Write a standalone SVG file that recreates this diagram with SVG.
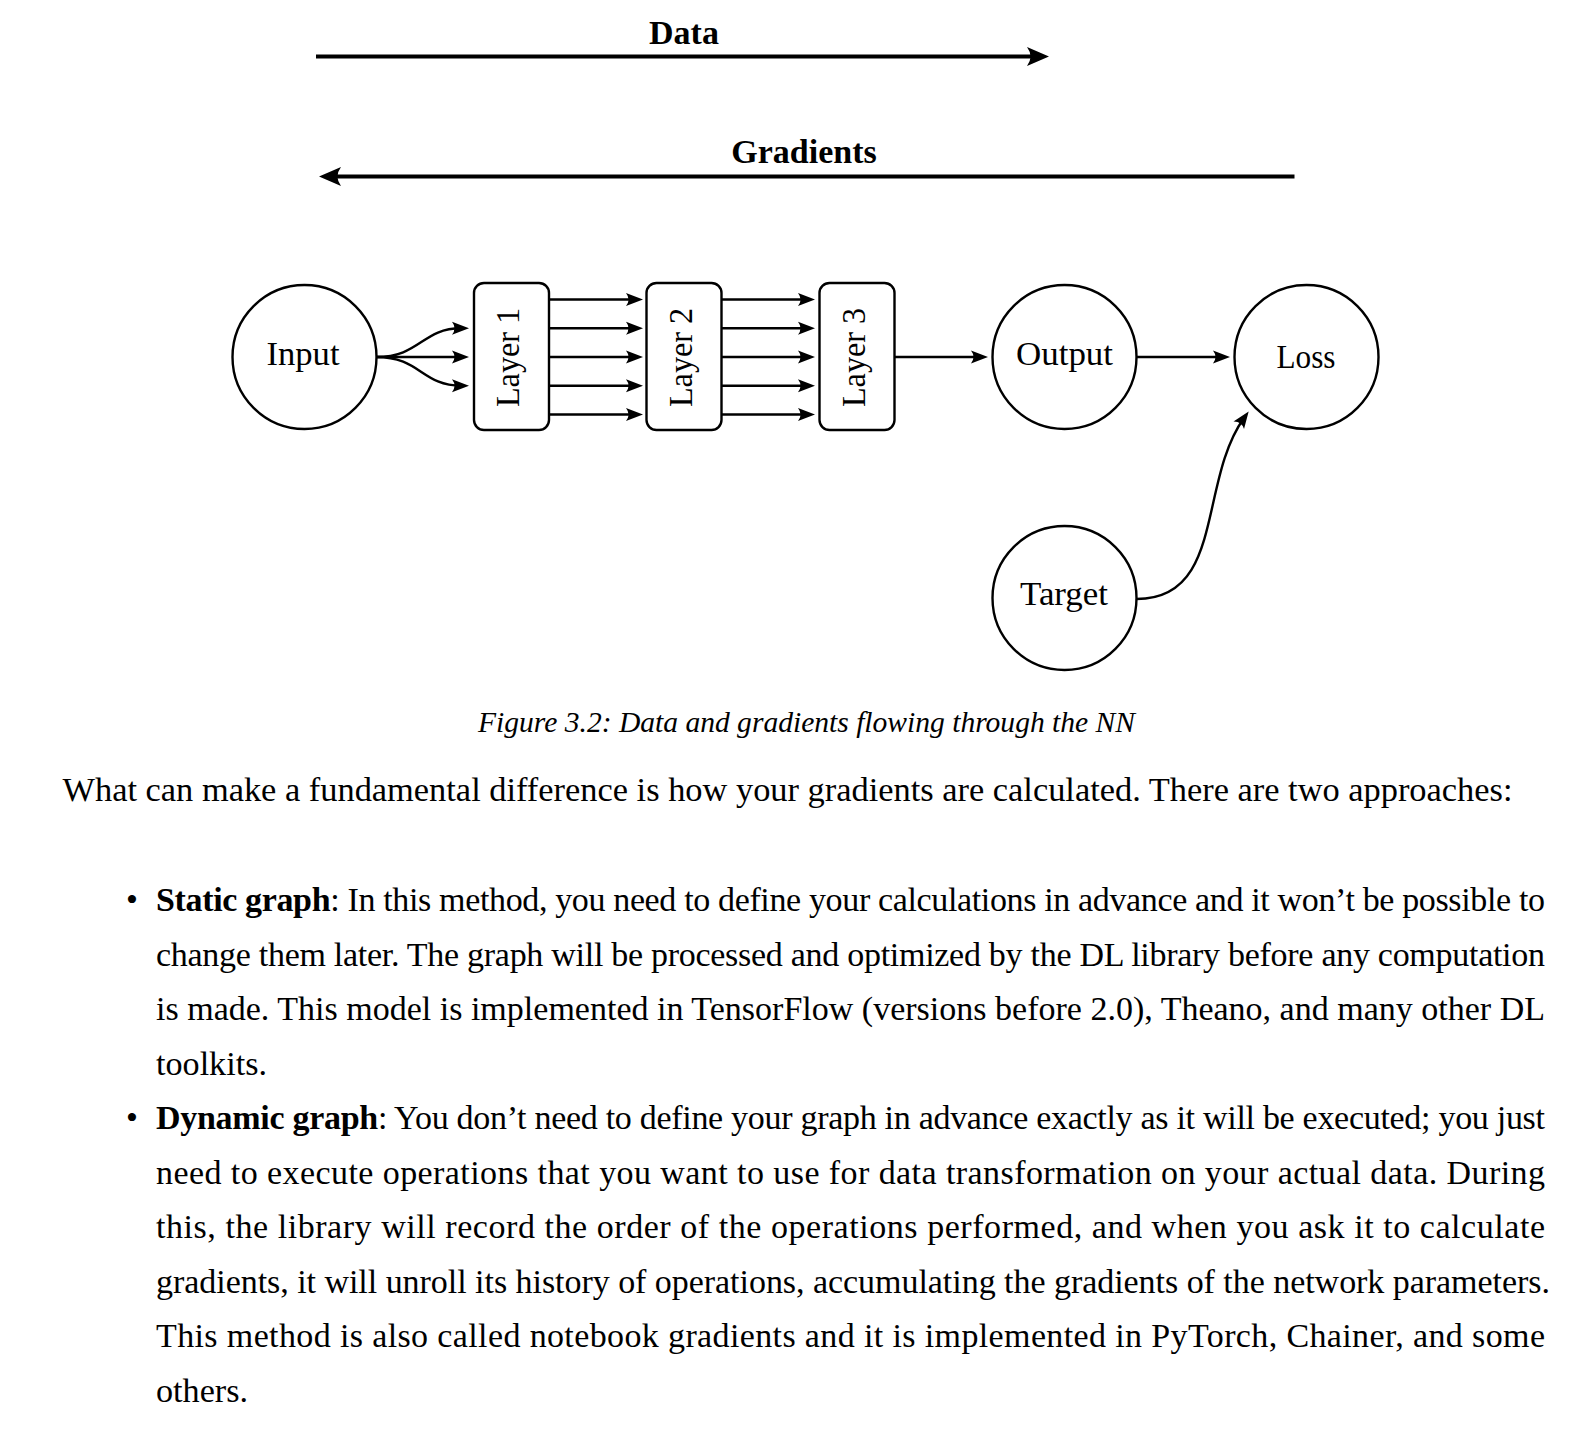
<svg xmlns="http://www.w3.org/2000/svg" width="1582" height="1434" viewBox="0 0 1582 1434">
<style>
  text { font-family: "Liberation Serif", "Times New Roman", serif; fill: #000; }
  .lbl { font-size: 33px; text-anchor: middle; }
  .hdr { font-size: 34px; font-weight: bold; text-anchor: middle; }
  .cap { font-size: 29px; font-style: italic; text-anchor: middle; }
  .body { font-size: 34px; }
  .b { font-weight: bold; }
  .node { fill: #fff; stroke: #000; stroke-width: 2.4; }
  .edge { fill: none; stroke: #000; stroke-width: 2.4; marker-end: url(#ah); }
  .big { fill: none; stroke: #000; stroke-width: 4; marker-end: url(#ahBig); }
</style>
<defs>
  <marker id="ah" markerUnits="userSpaceOnUse" markerWidth="30" markerHeight="30" viewBox="-15 -15 30 30" refX="0" refY="0" orient="auto">
    <path d="M8,0 L-9,-6.5 Q-4,0 -9,6.5 Z" fill="#000"/>
  </marker>
  <marker id="ahBig" markerUnits="userSpaceOnUse" markerWidth="40" markerHeight="40" viewBox="-20 -20 40 40" refX="0" refY="0" orient="auto">
    <path d="M10,0 L-12,-9.5 Q-5,0 -12,9.5 Z" fill="#000"/>
  </marker>
</defs>

<g id="flow-arrows">
  <text class="hdr" x="684" y="44">Data</text>
  <line class="big" x1="316" y1="56.5" x2="1039" y2="56.5"/>
  <text class="hdr" x="804" y="163">Gradients</text>
  <line class="big" x1="1294.5" y1="176.5" x2="329" y2="176.5"/>
</g>

<g id="connectors">
  <path class="edge" d="M376.5,357 C420,357 422,328.25 461,328.25"/>
  <path class="edge" d="M376.5,357 L461,357"/>
  <path class="edge" d="M376.5,357 C420,357 422,385.75 461,385.75"/>

  <line class="edge" x1="549" y1="299.5" x2="635" y2="299.5"/>
  <line class="edge" x1="549" y1="328.25" x2="635" y2="328.25"/>
  <line class="edge" x1="549" y1="357" x2="635" y2="357"/>
  <line class="edge" x1="549" y1="385.75" x2="635" y2="385.75"/>
  <line class="edge" x1="549" y1="414.5" x2="635" y2="414.5"/>

  <line class="edge" x1="721.5" y1="299.5" x2="807" y2="299.5"/>
  <line class="edge" x1="721.5" y1="328.25" x2="807" y2="328.25"/>
  <line class="edge" x1="721.5" y1="357" x2="807" y2="357"/>
  <line class="edge" x1="721.5" y1="385.75" x2="807" y2="385.75"/>
  <line class="edge" x1="721.5" y1="414.5" x2="807" y2="414.5"/>

  <line class="edge" x1="894.5" y1="357" x2="980" y2="357"/>
  <line class="edge" x1="1136.5" y1="357" x2="1222" y2="357"/>
  <path class="edge" d="M1136.5,599 C1225,599 1198,482 1244,418"/>
</g>

<g id="input">
  <circle class="node" cx="304.5" cy="357" r="72"/>
  <text class="lbl" x="303" y="365" textLength="73" lengthAdjust="spacingAndGlyphs">Input</text>
</g>
<g id="layer1">
  <rect class="node" x="474" y="283" width="75" height="147" rx="10"/>
  <text class="lbl" transform="translate(519,357.5) rotate(-90)" textLength="99" lengthAdjust="spacingAndGlyphs">Layer 1</text>
</g>
<g id="layer2">
  <rect class="node" x="646.5" y="283" width="75" height="147" rx="10"/>
  <text class="lbl" transform="translate(691.5,357.5) rotate(-90)" textLength="99" lengthAdjust="spacingAndGlyphs">Layer 2</text>
</g>
<g id="layer3">
  <rect class="node" x="819.5" y="283" width="75" height="147" rx="10"/>
  <text class="lbl" transform="translate(864.5,357.5) rotate(-90)" textLength="99" lengthAdjust="spacingAndGlyphs">Layer 3</text>
</g>
<g id="output">
  <circle class="node" cx="1064.5" cy="357" r="72"/>
  <text class="lbl" x="1064.5" y="365" textLength="97" lengthAdjust="spacingAndGlyphs">Output</text>
</g>
<g id="loss">
  <circle class="node" cx="1306.5" cy="357" r="72"/>
  <text class="lbl" x="1306" y="367.5" textLength="59" lengthAdjust="spacingAndGlyphs">Loss</text>
</g>
<g id="target">
  <circle class="node" cx="1064.5" cy="598" r="72"/>
  <text class="lbl" x="1064" y="605" textLength="88" lengthAdjust="spacingAndGlyphs">Target</text>
</g>

<g id="caption">
  <text class="cap" x="806.5" y="732" textLength="657" lengthAdjust="spacingAndGlyphs">Figure 3.2: Data and gradients flowing through the NN</text>
</g>

<g id="body-text">
  <text class="body" x="62.5" y="801" textLength="1450" lengthAdjust="spacingAndGlyphs">What can make a fundamental difference is how your gradients are calculated. There are two approaches:</text>

  <text class="body" x="132" y="911" text-anchor="middle">•</text>
  <text class="body" x="156" y="911" textLength="1389"><tspan class="b">Static graph</tspan>: In this method, you need to define your calculations in advance and it won’t be possible to</text>
  <text class="body" x="156" y="965.5" textLength="1389">change them later. The graph will be processed and optimized by the DL library before any computation</text>
  <text class="body" x="156" y="1020" textLength="1389">is made. This model is implemented in TensorFlow (versions before 2.0), Theano, and many other DL</text>
  <text class="body" x="156" y="1074.5" textLength="111" lengthAdjust="spacingAndGlyphs">toolkits.</text>

  <text class="body" x="132" y="1129" text-anchor="middle">•</text>
  <text class="body" x="156" y="1129" textLength="1389"><tspan class="b">Dynamic graph</tspan>: You don’t need to define your graph in advance exactly as it will be executed; you just</text>
  <text class="body" x="156" y="1183.5" textLength="1389">need to execute operations that you want to use for data transformation on your actual data. During</text>
  <text class="body" x="156" y="1238" textLength="1389">this, the library will record the order of the operations performed, and when you ask it to calculate</text>
  <text class="body" x="156" y="1292.5" textLength="1394">gradients, it will unroll its history of operations, accumulating the gradients of the network parameters.</text>
  <text class="body" x="156" y="1347" textLength="1389">This method is also called notebook gradients and it is implemented in PyTorch, Chainer, and some</text>
  <text class="body" x="156" y="1401.5" textLength="92" lengthAdjust="spacingAndGlyphs">others.</text>
</g>
</svg>
